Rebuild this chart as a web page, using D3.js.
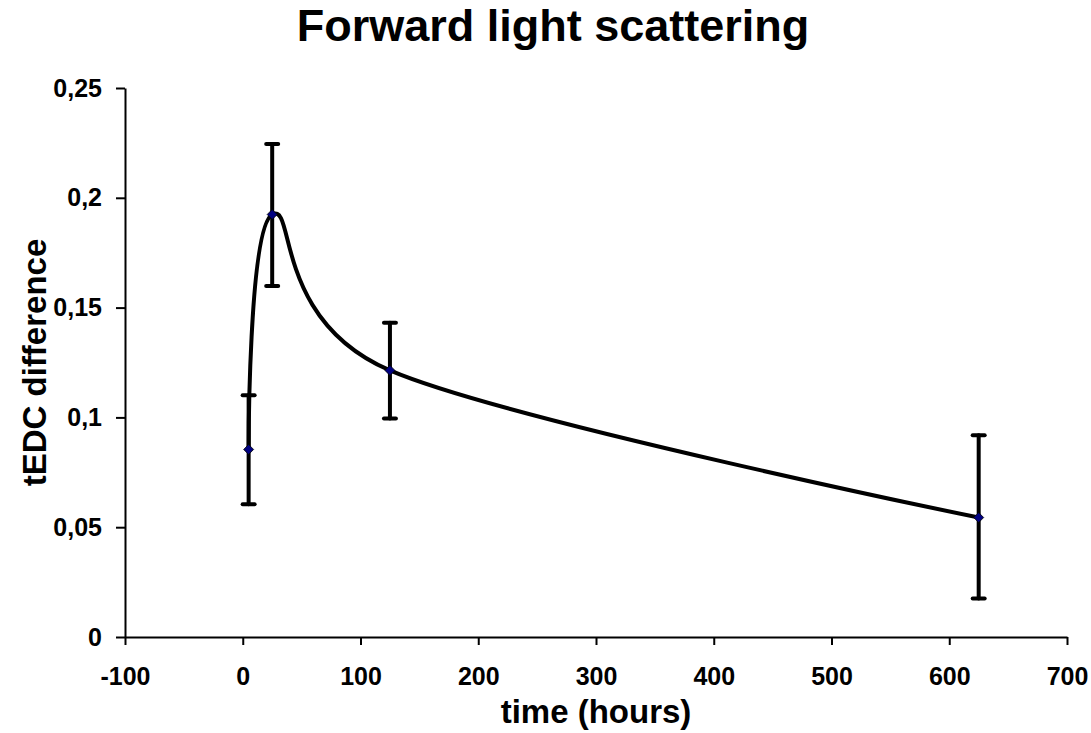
<!DOCTYPE html>
<html>
<head>
<meta charset="utf-8">
<script src="https://cdn.jsdelivr.net/npm/d3@7"></script>
<style>
    body { margin: 0; background: #fff; }
    text { font-family: "Liberation Sans", Arial, sans-serif; font-weight: bold; fill: #000; }
</style>
</head>
<body>
<div id="chart"></div>
<script>
// data
const hours = [5, 25, 125, 625];
const tedc = [0.0854, 0.1924, 0.1214, 0.0544];
const errLow = [0.0605, 0.1598, 0.0995, 0.0175];
const errHigh = [0.1101, 0.2245, 0.1431, 0.0919];
const xTicks = [-100, 0, 100, 200, 300, 400, 500, 600, 700];
const yTicks = [0, 0.05, 0.1, 0.15, 0.2, 0.25];

const width = 1091;
const height = 733;
const margin = { top: 88, right: 24, bottom: 96, left: 125 };

const svg = d3.select('#chart').append('svg')
    .attr('width', width)
    .attr('height', height);

const x = d3.scaleLinear().domain([-100, 700]).range([margin.left, width - margin.right]);
const y = d3.scaleLinear().domain([0, 0.25]).range([height - margin.bottom, margin.top]);

const comma = d => String(d).replace('.', ',');

// axes
const xAxis = svg.append('g')
    .attr('transform', `translate(0, ${y(0)})`)
    .call(d3.axisBottom(x).tickValues(xTicks).tickFormat(d => String(d))
        .tickSize(8).tickSizeOuter(0).tickPadding(22));
const yAxis = svg.append('g')
    .attr('transform', `translate(${x(-100)}, 0)`)
    .call(d3.axisLeft(y).tickValues(yTicks).tickFormat(comma)
        .tickSize(9).tickSizeOuter(0).tickPadding(14));

[xAxis, yAxis].forEach(g => {
    g.select('.domain').attr('stroke', '#000').attr('stroke-width', 2);
    g.selectAll('.tick line').attr('stroke', '#000').attr('stroke-width', 2);
    g.selectAll('.tick text')
        .style('font-size', '25px')
        .style('font-family', '"Liberation Sans", Arial, sans-serif')
        .style('font-weight', 'bold');
});

const points = hours.map((h, i) => ({ h: h, v: tedc[i], lo: errLow[i], hi: errHigh[i] }));

// smoothed line, like the spreadsheet's
const line = d3.line()
    .x(d => x(d.h))
    .y(d => y(d.v))
    .curve(d3.curveCardinal.tension(0));

svg.append('path')
    .datum(points)
    .attr('d', line)
    .attr('fill', 'none')
    .attr('stroke', '#000')
    .attr('stroke-width', 4);

// error bars
const bars = svg.selectAll('.err')
    .data(points)
    .enter().append('g')
    .attr('class', 'err')
    .attr('stroke', '#000')
    .attr('stroke-width', 4)
    .attr('stroke-linecap', 'round');

bars.append('line')
    .attr('x1', d => x(d.h)).attr('x2', d => x(d.h))
    .attr('y1', d => y(d.lo)).attr('y2', d => y(d.hi));
bars.append('line')
    .attr('x1', d => x(d.h) - 6).attr('x2', d => x(d.h) + 6)
    .attr('y1', d => y(d.lo)).attr('y2', d => y(d.lo));
bars.append('line')
    .attr('x1', d => x(d.h) - 6).attr('x2', d => x(d.h) + 6)
    .attr('y1', d => y(d.hi)).attr('y2', d => y(d.hi));

// diamond markers
svg.selectAll('.marker')
    .data(points)
    .enter().append('path')
    .attr('class', 'marker')
    .attr('transform', d => `translate(${x(d.h)}, ${y(d.v)})`)
    .attr('d', 'M0,-5L5,0L0,5L-5,0Z')
    .attr('fill', '#000080')
    .attr('stroke', '#000')
    .attr('stroke-width', 0.8);

// titles
svg.append('text')
    .attr('x', 553)
    .attr('y', 41)
    .attr('text-anchor', 'middle')
    .style('font-size', '45px')
    .text('Forward light scattering');

svg.append('text')
    .attr('x', (x(-100) + x(700)) / 2)
    .attr('y', 723)
    .attr('text-anchor', 'middle')
    .style('font-size', '33px')
    .text('time (hours)');

svg.append('text')
    .attr('transform', `translate(46, ${(y(0) + y(0.25)) / 2}) rotate(-90)`)
    .attr('text-anchor', 'middle')
    .style('font-size', '33px')
    .text('tEDC difference');
</script>
</body>
</html>
